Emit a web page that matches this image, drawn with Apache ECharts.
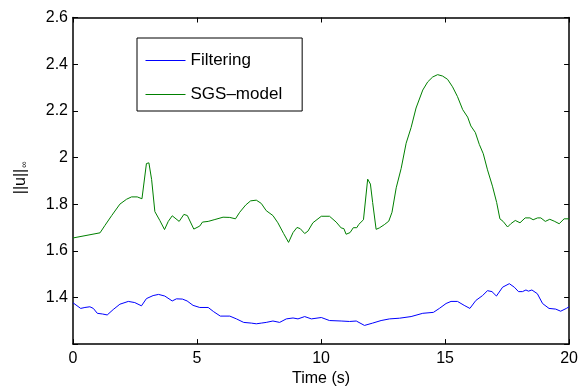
<!DOCTYPE html>
<html>
<head>
<meta charset="utf-8">
<script src="https://cdn.jsdelivr.net/npm/echarts@6/dist/echarts.min.js"></script>
<style>html,body{margin:0;padding:0;background:#fff;}#c{width:581px;height:392px;}</style>
</head>
<body>
<div id="c"></div>
<script>
const xTicks = [0, 5, 10, 15, 20];
const yTicks = [1.2, 1.4, 1.6, 1.8, 2.0, 2.2, 2.4, 2.6];
const seriesNames = ['Filtering', 'SGS\u2013model'];

const filterT = [0,0.31,0.48,0.68,0.82,0.98,1.19,1.38,1.62,1.89,2.23,2.49,2.76,2.96,3.23,3.45,3.70,4.00,4.17,4.41,4.60,4.84,5.11,5.45,5.67,5.94,6.32,6.59,6.88,7.19,7.39,7.59,7.79,8.06,8.33,8.60,8.87,9.07,9.34,9.61,10.01,10.34,10.81,11.15,11.42,11.75,12.08,12.42,12.76,13.16,13.63,14.10,14.53,14.77,15.04,15.24,15.50,15.77,16.00,16.24,16.51,16.71,16.89,17.07,17.32,17.59,17.79,17.96,18.12,18.26,18.36,18.50,18.72,18.93,19.19,19.46,19.66,19.89,20.0];
const filterV = [1.377,1.353,1.357,1.36,1.353,1.332,1.329,1.325,1.348,1.371,1.383,1.378,1.364,1.395,1.408,1.413,1.406,1.385,1.394,1.393,1.385,1.366,1.357,1.357,1.339,1.32,1.32,1.308,1.293,1.29,1.287,1.29,1.293,1.299,1.293,1.308,1.312,1.308,1.318,1.308,1.314,1.301,1.299,1.297,1.299,1.28,1.29,1.301,1.308,1.311,1.318,1.332,1.336,1.353,1.374,1.383,1.383,1.366,1.353,1.387,1.408,1.429,1.425,1.406,1.444,1.459,1.444,1.425,1.425,1.432,1.427,1.432,1.416,1.374,1.353,1.35,1.341,1.353,1.36];

const sgsT = [0,1.09,1.29,1.56,1.89,2.16,2.36,2.59,2.78,2.96,3.06,3.17,3.30,3.50,3.69,3.84,4.00,4.28,4.47,4.61,4.87,5.11,5.22,5.45,5.72,6.05,6.32,6.55,6.72,6.96,7.16,7.39,7.59,7.79,8.06,8.26,8.49,8.69,8.87,9.03,9.16,9.34,9.47,9.67,10.01,10.34,10.61,10.81,10.92,11.01,11.17,11.30,11.44,11.52,11.71,11.88,11.99,12.08,12.22,12.35,12.55,12.73,12.86,13.03,13.23,13.43,13.63,13.83,14.10,14.30,14.50,14.70,14.90,15.10,15.30,15.50,15.71,15.91,16.04,16.22,16.38,16.54,16.71,16.91,17.08,17.21,17.34,17.52,17.65,17.83,18.02,18.23,18.42,18.55,18.73,18.86,19.04,19.22,19.40,19.60,19.80,20.0];
const sgsV = [1.655,1.677,1.709,1.751,1.80,1.821,1.831,1.831,1.823,1.974,1.977,1.905,1.768,1.73,1.691,1.726,1.75,1.726,1.756,1.751,1.693,1.706,1.723,1.726,1.734,1.744,1.743,1.737,1.765,1.796,1.814,1.817,1.803,1.772,1.751,1.72,1.674,1.636,1.678,1.70,1.695,1.674,1.684,1.72,1.748,1.748,1.723,1.698,1.695,1.671,1.678,1.699,1.699,1.713,1.733,1.907,1.886,1.807,1.692,1.698,1.712,1.727,1.765,1.87,1.953,2.061,2.128,2.212,2.289,2.324,2.345,2.355,2.349,2.335,2.303,2.261,2.205,2.173,2.135,2.107,2.056,2.016,1.947,1.877,1.807,1.737,1.726,1.702,1.716,1.73,1.72,1.741,1.741,1.733,1.741,1.741,1.726,1.735,1.727,1.716,1.737,1.737];

const zip = (a, b) => a.map((t, i) => [t, b[i]]);
const font = 'Liberation Sans, Arial, Helvetica, sans-serif';
const axisLineStyle = { color: '#000', width: 1.5 };

const chart = echarts.init(document.getElementById('c'), null, { renderer: 'canvas' });
const xBase = {
  type: 'value', min: xTicks[0], max: xTicks[xTicks.length - 1], interval: xTicks[1] - xTicks[0],
  splitLine: { show: false },
  axisLine: { show: true, onZero: false, lineStyle: axisLineStyle },
  axisTick: { show: true, inside: true, length: 5, lineStyle: { color: '#000', width: 1 } }
};
const yBase = {
  type: 'value', min: yTicks[0], max: yTicks[yTicks.length - 1], interval: 0.2,
  splitLine: { show: false },
  axisLine: { show: true, onZero: false, lineStyle: axisLineStyle },
  axisTick: { show: true, inside: true, length: 5, lineStyle: { color: '#000', width: 1 } }
};
chart.setOption({
  animation: false,
  backgroundColor: '#fff',
  textStyle: { fontFamily: font },
  grid: { left: 73, right: 10.5, top: 17.5, bottom: 41, containLabel: false },
  legend: {
    orient: 'vertical', left: 137, top: 38,
    data: seriesNames,
    itemWidth: 40, itemHeight: 14, itemGap: 17,
    padding: [14, 20, 8, 8],
    borderColor: '#000', borderWidth: 1,
    itemStyle: { opacity: 0 },
    lineStyle: { width: 1 },
    textStyle: { fontFamily: font, fontSize: 17, color: '#000' },
    backgroundColor: '#fff'
  },
  xAxis: [
    Object.assign({}, xBase, {
      position: 'bottom',
      name: 'Time (s)', nameLocation: 'middle', nameGap: 23,
      nameTextStyle: { fontFamily: font, fontSize: 16, color: '#000' },
      axisLabel: { fontFamily: font, fontSize: 16, color: '#000', margin: 6 }
    }),
    Object.assign({}, xBase, { position: 'top', axisLabel: { show: false } })
  ],
  yAxis: [
    Object.assign({}, yBase, {
      position: 'left',
      name: '{a|||u||}{b|\u221e}', nameLocation: 'middle', nameGap: 44, nameRotate: 90,
      nameTextStyle: {
        color: '#000',
        padding: [0, 0, 0, 6],
        rich: {
          a: { fontFamily: font, fontSize: 16, color: '#000' },
          b: { fontFamily: font, fontSize: 9, color: '#000', verticalAlign: 'bottom', padding: [7, 0, 0, 1] }
        }
      },
      axisLabel: {
        fontFamily: font, fontSize: 16, color: '#000', margin: 5,
        formatter: v => (Math.abs(v - yTicks[0]) < 1e-9 ? '' : String(+v.toFixed(1)))
      }
    }),
    Object.assign({}, yBase, { position: 'right', axisLabel: { show: false } })
  ],
  series: [
    {
      name: seriesNames[0], type: 'line', data: zip(filterT, filterV),
      symbol: 'none', smooth: false,
      lineStyle: { color: '#0000ff', width: 1 }, itemStyle: { color: '#0000ff' }
    },
    {
      name: seriesNames[1], type: 'line', data: zip(sgsT, sgsV),
      symbol: 'none', smooth: false,
      lineStyle: { color: '#008000', width: 1 }, itemStyle: { color: '#008000' }
    }
  ]
});
</script>
</body>
</html>
